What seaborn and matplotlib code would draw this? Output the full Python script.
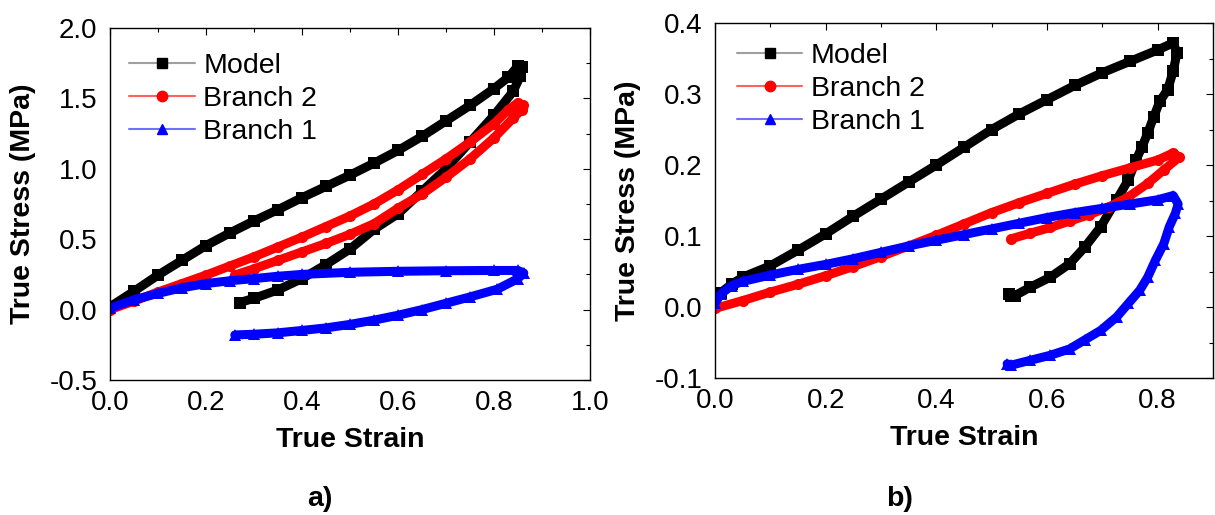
import numpy as np
import pandas as pd
import matplotlib
matplotlib.use('Agg')
import matplotlib.pyplot as plt
from matplotlib.lines import Line2D
from matplotlib.ticker import MultipleLocator
import seaborn as sns

# ---- panel a) data (loading then unloading) ----
a_model_strain = [0, 0.05, 0.1, 0.15, 0.2, 0.25, 0.3, 0.35, 0.4, 0.45, 0.5, 0.55, 0.6, 0.65, 0.7, 0.75, 0.8, 0.83, 0.85, 0.858,
                  0.855, 0.84, 0.8, 0.75, 0.7, 0.65, 0.6, 0.55, 0.5, 0.45, 0.4, 0.35, 0.3, 0.27]
a_model_stress = [0.02, 0.13, 0.245, 0.35, 0.455, 0.545, 0.63, 0.71, 0.795, 0.875, 0.955, 1.04, 1.13, 1.23, 1.34, 1.45, 1.57, 1.65, 1.73, 1.72,
                  1.66, 1.55, 1.38, 1.19, 1.0, 0.84, 0.68, 0.57, 0.43, 0.32, 0.22, 0.14, 0.08, 0.05]

a_br2_strain = [0, 0.05, 0.1, 0.15, 0.2, 0.25, 0.3, 0.35, 0.4, 0.45, 0.5, 0.55, 0.6, 0.65, 0.7, 0.75, 0.8, 0.83, 0.85, 0.86,
                0.858, 0.84, 0.8, 0.75, 0.7, 0.65, 0.6, 0.55, 0.5, 0.45, 0.4, 0.35, 0.3, 0.26]
a_br2_stress = [0.0, 0.06, 0.125, 0.185, 0.245, 0.31, 0.375, 0.445, 0.515, 0.59, 0.665, 0.75, 0.85, 0.96, 1.07, 1.19, 1.32, 1.42, 1.47, 1.45,
                1.42, 1.36, 1.22, 1.07, 0.94, 0.82, 0.72, 0.61, 0.535, 0.47, 0.41, 0.35, 0.29, 0.245]

a_br1_strain = [0, 0.05, 0.1, 0.15, 0.2, 0.25, 0.3, 0.35, 0.4, 0.5, 0.6, 0.7, 0.8, 0.85, 0.862,
                0.85, 0.807, 0.75, 0.7, 0.65, 0.6, 0.55, 0.5, 0.45, 0.4, 0.35, 0.3, 0.26]
a_br1_stress = [0.01, 0.07, 0.115, 0.155, 0.185, 0.205, 0.22, 0.237, 0.25, 0.265, 0.272, 0.276, 0.278, 0.278, 0.26,
                0.22, 0.145, 0.09, 0.045, 0.0, -0.04, -0.075, -0.105, -0.13, -0.148, -0.165, -0.175, -0.18]

# ---- panel b) data ----
b_model_strain = [0, 0.01, 0.03, 0.05, 0.1, 0.15, 0.2, 0.25, 0.3, 0.35, 0.4, 0.45, 0.5, 0.55, 0.6, 0.65, 0.7, 0.75, 0.8, 0.828,
                  0.835, 0.828, 0.818, 0.804, 0.793, 0.782, 0.772, 0.761, 0.747, 0.726, 0.697, 0.669, 0.641, 0.606, 0.57, 0.542, 0.535, 0.531]
b_model_stress = [0.008, 0.02, 0.032, 0.042, 0.058, 0.080, 0.103, 0.128, 0.152, 0.176, 0.200, 0.225, 0.250, 0.272, 0.292, 0.312, 0.330, 0.346, 0.362, 0.372,
                  0.358, 0.332, 0.306, 0.290, 0.268, 0.245, 0.226, 0.207, 0.179, 0.151, 0.113, 0.085, 0.061, 0.042, 0.028, 0.016, 0.016, 0.019]

b_br2_strain = [0, 0.05, 0.1, 0.15, 0.2, 0.25, 0.3, 0.35, 0.4, 0.45, 0.5, 0.55, 0.6, 0.65, 0.7, 0.75, 0.8, 0.828, 0.839,
                0.811, 0.782, 0.747, 0.712, 0.676, 0.641, 0.606, 0.57, 0.535]
b_br2_stress = [-0.002, 0.009, 0.021, 0.032, 0.044, 0.057, 0.071, 0.086, 0.101, 0.117, 0.133, 0.147, 0.160, 0.173, 0.185, 0.196, 0.207, 0.217, 0.211,
                0.193, 0.174, 0.155, 0.141, 0.130, 0.121, 0.112, 0.104, 0.096]

b_br1_strain = [0, 0.01, 0.03, 0.05, 0.1, 0.15, 0.2, 0.25, 0.3, 0.35, 0.4, 0.45, 0.5, 0.55, 0.6, 0.65, 0.7, 0.75, 0.8, 0.828, 0.837,
                0.832, 0.821, 0.811, 0.796, 0.782, 0.768, 0.747, 0.726, 0.697, 0.669, 0.641, 0.606, 0.57, 0.535, 0.528]
b_br1_stress = [0.005, 0.018, 0.03, 0.036, 0.045, 0.053, 0.060, 0.068, 0.077, 0.086, 0.094, 0.102, 0.110, 0.118, 0.126, 0.133, 0.139, 0.145, 0.151, 0.157, 0.145,
                0.132, 0.113, 0.089, 0.066, 0.042, 0.024, 0.005, -0.014, -0.033, -0.046, -0.059, -0.068, -0.075, -0.082, -0.080]

labels = ['Model', 'Branch 2', 'Branch 1']
colors = ['black', '#ff0000', '#0000ff']
light = ['#a0a0a0', '#ff6060', '#7070ff']
markers = ['s', 'o', '^']

sns.set_theme(style='white')
plt.rcParams['font.family'] = ['Liberation Sans', 'DejaVu Sans']
plt.rcParams['text.color'] = 'black'
plt.rcParams['axes.labelcolor'] = 'black'
plt.rcParams['xtick.color'] = 'black'
plt.rcParams['ytick.color'] = 'black'

fig = plt.figure(figsize=(12.15, 5.15), dpi=100)
ax1 = fig.add_axes([110/1215, 135/515, 480/1215, 352/515])
ax2 = fig.add_axes([715/1215, 137/515, 498/1215, 355/515])


def draw(ax, curves):
    for (sx, sy), c, m in zip(curves, colors, markers):
        d = pd.DataFrame({'strain': sx, 'stress': sy})
        sns.lineplot(data=d, x='strain', y='stress', sort=False, estimator=None, ax=ax,
                     color=c, linewidth=6.5, marker=m, markersize=8, markeredgewidth=0, legend=False)


draw(ax1, [(a_model_strain, a_model_stress), (a_br2_strain, a_br2_stress), (a_br1_strain, a_br1_stress)])
draw(ax2, [(b_model_strain, b_model_stress), (b_br2_strain, b_br2_stress), (b_br1_strain, b_br1_stress)])

ax1.set_xlim(0, 1.0)
ax1.set_ylim(-0.5, 2.0)
ax1.xaxis.set_major_locator(MultipleLocator(0.2))
ax1.xaxis.set_minor_locator(MultipleLocator(0.1))
ax1.yaxis.set_major_locator(MultipleLocator(0.5))
ax1.yaxis.set_minor_locator(MultipleLocator(0.25))

ax2.set_xlim(0, 0.9)
ax2.set_ylim(-0.1, 0.4)
ax2.set_xticks([0, 0.2, 0.4, 0.6, 0.8])
ax2.xaxis.set_minor_locator(MultipleLocator(0.1))
ax2.yaxis.set_major_locator(MultipleLocator(0.1))
ax2.yaxis.set_minor_locator(MultipleLocator(0.05))

for ax in (ax1, ax2):
    ax.xaxis.set_major_formatter(plt.FormatStrFormatter('%.1f'))
    ax.yaxis.set_major_formatter(plt.FormatStrFormatter('%.1f'))
    for s in ax.spines.values():
        s.set_color('black')
        s.set_linewidth(1.0)
    ax.tick_params(which='both', direction='in', top=True, right=True, color='black', labelcolor='black', width=0.8)
    ax.tick_params(which='major', length=5, labelsize=20)
    ax.tick_params(which='minor', length=3)
    ax.tick_params(axis='x', which='major', pad=7)
    ax.tick_params(axis='y', which='major', pad=9)
    ax.set_xlabel('True Strain', fontsize=20.5, fontweight='bold', labelpad=8, color='black')
    ax.set_ylabel('True Stress (MPa)', fontsize=20.5, fontweight='bold', labelpad=10, color='black')
    ax.grid(False)

handles = [Line2D([], [], color=l, lw=1.5, marker=m, markersize=7.5, markerfacecolor=c, markeredgecolor=c)
           for l, c, m in zip(light, colors, markers)]
for ax, anchor in ((ax1, (0.04, 0.93)), (ax2, (0.044, 0.945))):
    ax.legend(handles=handles, labels=labels, loc='upper left', bbox_to_anchor=anchor, frameon=False,
              fontsize=20.5, handlelength=2.3, handletextpad=0.3, labelspacing=0.25,
              borderpad=0, borderaxespad=0, numpoints=1, labelcolor='black')

fig.text(320/1215, 1 - 499/515, 'a)', fontsize=20.5, fontweight='bold', ha='center', va='center', color='black')
fig.text(900/1215, 1 - 499/515, 'b)', fontsize=20.5, fontweight='bold', ha='center', va='center', color='black')

fig.savefig('out.png', dpi=100, facecolor='white')
